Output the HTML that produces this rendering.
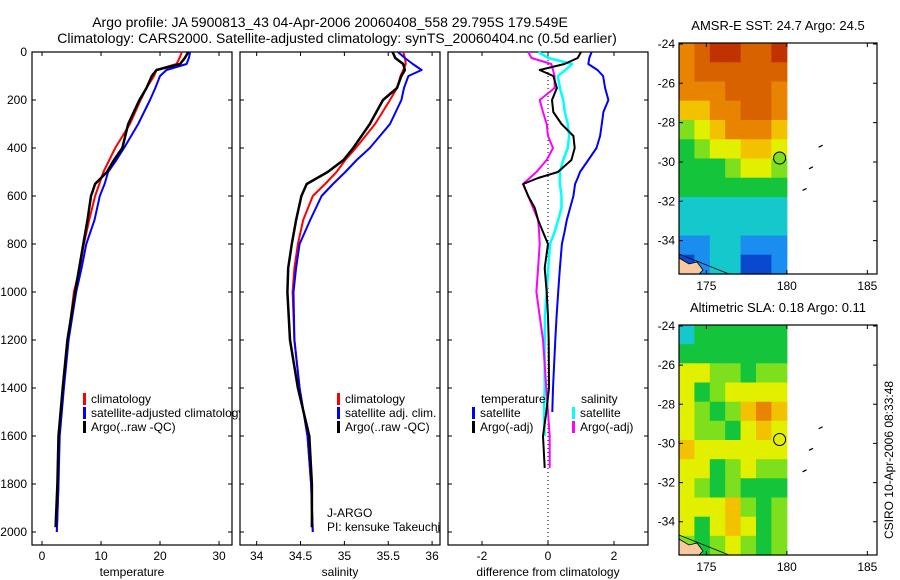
<!DOCTYPE html>
<html><head><meta charset="utf-8"><style>
html,body{margin:0;padding:0;background:#fff;}
svg{display:block;font-family:"Liberation Sans",sans-serif;}
text{fill:#000;}
</style></head><body>
<svg id="fig" width="900" height="580" viewBox="0 0 900 580" xmlns="http://www.w3.org/2000/svg">
<text x="330" y="27" font-size="14" text-anchor="middle">Argo profile: JA 5900813_43 04-Apr-2006 20060408_558 29.795S 179.549E</text>
<text x="337" y="43" font-size="14" text-anchor="middle">Climatology: CARS2000. Satellite-adjusted climatology: synTS_20060404.nc (0.5d earlier)</text>
<g id="g1"></g>
<g id="g2"></g>
<g id="g3"></g>
<g id="m1"></g>
<g id="m2"></g>
<text transform="translate(893,460) rotate(-90)" font-size="12" text-anchor="middle">CSIRO 10-Apr-2006 08:33:48</text>
</svg>
<script>
// ---- data ----
const depths = [0,25,50,75,100,150,200,300,400,450,500,550,600,700,800,900,1000,1200,1400,1600,1800,2000];
const tempClim = [23.7,23.3,22.8,19.4,19.0,17.7,16.7,14.9,12.4,11.4,10.4,9.7,9.0,8.0,7.1,6.4,5.4,4.4,3.6,2.9,2.8,2.5];
const tempSat  = [25.1,24.9,24.5,21.1,20.0,19.2,18.3,16.3,13.9,12.6,11.2,10.6,9.8,8.9,7.5,6.7,5.8,4.5,3.7,3.0,2.8,2.5];
const tempArgo = [24.8,24.2,23.4,19.4,18.6,17.7,16.5,14.6,13.6,12.2,11.0,9.0,8.3,7.7,7.0,6.3,5.6,4.3,3.5,2.8,2.6,2.3];
const salClim = [35.67,35.69,35.70,35.67,35.64,35.60,35.52,35.35,35.13,35.01,34.91,34.78,34.64,34.53,34.47,34.43,34.41,34.43,34.49,34.58,34.62,34.64];
const salSat  = [35.61,35.69,35.78,35.88,35.73,35.68,35.65,35.52,35.29,35.14,35.01,34.87,34.74,34.61,34.49,34.45,34.42,34.43,34.49,34.58,34.62,34.64];
const salArgo = [35.55,35.58,35.67,35.69,35.65,35.60,35.44,35.29,35.10,34.99,34.81,34.57,34.51,34.45,34.40,34.36,34.35,34.38,34.47,34.60,34.63,34.63];
const diffDepths = [0,25,50,75,100,150,200,250,300,350,400,450,500,525,550,600,650,700,750,800,900,1000,1100,1200,1400,1500,1600,1733];
const dTempSat = [1.32,1.25,1.22,1.5,1.67,1.73,1.83,1.68,1.63,1.58,1.47,1.22,0.97,0.9,0.82,0.77,0.67,0.57,0.5,0.42,0.36,0.31,0.26,0.22,0.15,0.13,null,null];
const dSalSat  = [-0.29,0.01,0.73,0.53,0.3,0.36,0.46,0.51,0.6,0.64,0.6,0.46,0.36,0.36,0.36,0.41,0.41,0.31,0.2,0.06,0.01,-0.04,-0.09,-0.1,-0.1,-0.12,-0.1,null];
const dTempArgo= [1.0,0.9,0.5,-0.25,0.16,0.27,0.12,0.16,0.41,0.77,0.81,0.71,0.3,-0.3,-0.75,-0.6,-0.4,-0.3,-0.15,0.0,-0.1,-0.04,0.0,0.02,0.03,-0.05,-0.15,-0.1];
const dSalArgo = [-0.6,-0.5,0.1,0.15,0.2,0.2,-0.25,-0.15,-0.04,0.0,0.15,-0.04,-0.35,-0.55,-0.76,-0.6,-0.45,-0.3,-0.27,-0.25,-0.3,-0.35,-0.25,-0.15,-0.05,0.0,0.05,0.05];
const depthTicks = [0,200,400,600,800,1000,1200,1400,1600,1800,2000];
const tempTicks = [0,10,20,30];
const salTicks = [34,34.5,35,35.5,36];
const diffTicks = [-2,0,2];
const latTicks = [-24,-26,-28,-30,-32,-34];
const lonTicks = [175,180,185];
const sstGrid = [
 [7,8,9,9,8,8,9],[7,8,8,8,8,8,8],[7,7,7,8,8,8,7],[6,6,7,7,8,8,7],
 [4,5,6,7,7,7,6],[3,4,5,5,6,6,5],[3,3,3,4,5,5,4],[3,3,3,3,3,3,3],
 [2,2,2,2,2,2,2],[2,2,2,2,2,2,2],[1,1,2,2,1,1,1],[0,1,2,2,0,0,1]];
const slaGrid = [
 [2,3,3,3,3,3,3],[3,3,3,3,3,3,3],[5,5,4,4,3,4,4],[5,3,4,5,5,5,5],
 [5,4,3,4,6,7,6],[5,4,4,3,5,6,5],[6,5,5,5,5,5,5],[5,5,3,4,5,4,4],
 [5,4,3,4,3,3,3],[5,5,5,6,4,3,4],[5,3,5,6,5,3,4],[4,3,4,5,4,3,4]];
const palette = ["#0a48d0","#1a8ef0","#14c8cc","#14c43a","#7ee01c","#e2f000","#f2c200","#e88400","#d86200","#c03200"];

const NS="http://www.w3.org/2000/svg";
function mk(p,tag,at){const e=document.createElementNS(NS,tag);for(const k in at)e.setAttribute(k,at[k]);p.appendChild(e);return e;}
const Y0=52,Y1=545; const yD=d=>Y0+d*0.24;

function panel(g,x0,x1,xmin,xmax,ticks,label,showY){
  const sx=v=>x0+(v-xmin)/(xmax-xmin)*(x1-x0);
  const r=mk(g,'rect',{x:x0,y:Y0,width:x1-x0,height:Y1-Y0,fill:'#fff',stroke:'#000','stroke-width':1.2});
  
  
  ticks.forEach(t=>{const x=sx(t);
    const l=mk(g,'path',{d:`M${x} ${Y0}v4M${x} ${Y1}v-4`,stroke:'#000'});
    
    
    const tx=mk(g,'text',{x:x,y:560,'font-size':12,'text-anchor':'middle'});tx.textContent=t;
    
    });
  depthTicks.forEach(d=>{const y=yD(d);
    const l=mk(g,'path',{d:`M${x0} ${y}h4M${x1} ${y}h-4`,stroke:'#000'});
    
    
    if(showY){const tx=mk(g,'text',{x:27,y:y+4,'font-size':12,'text-anchor':'end'});tx.textContent=d;
      
      }});
  const xl=mk(g,'text',{x:(x0+x1)/2,y:576,'font-size':12,'text-anchor':'middle'});xl.textContent=label;
  
  
  return sx;
}
function line(g,sx,ds,vals,col,w,name){
  const pts=[];vals.forEach((v,i)=>{if(v!==null)pts.push(sx(v).toFixed(1)+','+yD(ds[i]).toFixed(1));});
  const p=mk(g,'polyline',{points:pts.join(' '),fill:'none',stroke:col,'stroke-width':w,'stroke-linejoin':'round'});
  
  
}
function legend(g,x,y,col,txt){
  const b=mk(g,'rect',{x:x,y:y-10,width:3,height:12,fill:col});
  
  
  const t=mk(g,'text',{x:x+8,y:y,'font-size':12});t.textContent=txt;
  
  
}
const g1=document.getElementById('g1'),g2=document.getElementById('g2'),g3=document.getElementById('g3');
let sx=panel(g1,32,232,-1.7,32.2,tempTicks,'temperature',true);
line(g1,sx,depths,tempClim,'#f00',2,'temp-climatology-line');
line(g1,sx,depths,tempSat,'#00f',2,'temp-satellite-line');
line(g1,sx,depths.slice(0,21).concat([1980]),tempArgo,'#000',2.5,'temp-argo-line');
legend(g1,83,403,'#f00','climatology');
legend(g1,83,417,'#00f','satellite-adjusted climatology');
legend(g1,83,431,'#000','Argo(..raw -QC)');
sx=panel(g2,240,440,33.81,36.09,salTicks,'salinity',false);
line(g2,sx,depths,salClim,'#f00',2,'sal-climatology-line');
line(g2,sx,depths,salSat,'#00f',2,'sal-satellite-line');
line(g2,sx,depths.slice(0,21).concat([1980]),salArgo,'#000',2.5,'sal-argo-line');
legend(g2,337,403,'#f00','climatology');
legend(g2,337,417,'#00f','satellite adj. clim.');
legend(g2,337,431,'#000','Argo(..raw -QC)');
let t=mk(g2,'text',{x:327,y:517,'font-size':12});t.textContent='J-ARGO';


t=mk(g2,'text',{x:327,y:531,'font-size':12});t.textContent='PI: kensuke Takeuchi';


sx=panel(g3,448,648,-3.03,3.03,diffTicks,'difference from climatology',false);
const zl=mk(g3,'line',{x1:sx(0),y1:Y0,x2:sx(0),y2:Y1,stroke:'#000','stroke-dasharray':'1,3'});


line(g3,sx,diffDepths,dTempSat,'#00f',2,'diff-temp-satellite-line');
line(g3,sx,diffDepths,dSalSat,'#0ff',2.5,'diff-sal-satellite-line');
line(g3,sx,diffDepths,dSalArgo,'#f0f',2,'diff-sal-argo-line');
line(g3,sx,diffDepths,dTempArgo,'#000',2,'diff-temp-argo-line');
t=mk(g3,'text',{x:481,y:403,'font-size':12});t.textContent='temperature';


t=mk(g3,'text',{x:581,y:403,'font-size':12});t.textContent='salinity';


legend(g3,472,417,'#00f','satellite');
legend(g3,472,431,'#000','Argo(-adj)');
legend(g3,572,417,'#0ff','satellite');
legend(g3,572,431,'#f0f','Argo(-adj)');

function map(g,top,bot,grid,title,ci){
  const L=679,R=877,lonMin=173.3,lonMax=185.6,latTop=-23.95,latBot=-35.7;
  const sxm=v=>L+(v-lonMin)/(lonMax-lonMin)*(R-L);
  const sym=v=>top+(latTop-v)/(latTop-latBot)*(bot-top);
  const tt=mk(g,'text',{x:778,y:top-13,'font-size':13,'text-anchor':'middle'});tt.textContent=title;
  
  
  const fr=mk(g,'rect',{x:L,y:top,width:R-L,height:bot-top,fill:'#fff'});
  
  
  const nr=grid.length,nc=grid[0].length,cw=(180-lonMin)/nc,ch=(latTop-latBot)/nr;
  grid.forEach((row,i)=>row.forEach((v,j)=>{
    const x=sxm(lonMin+j*cw),y=sym(latTop-i*ch);
    const c=mk(g,'rect',{x:x.toFixed(1),y:y.toFixed(1),width:(sxm(lonMin+(j+1)*cw)-x+0.6).toFixed(1),height:(sym(latTop-(i+1)*ch)-y+0.6).toFixed(1),fill:palette[v]});
    
    }));
  const co=mk(g,'path',{d:`M${L} ${bot-16}l10 6l8 -2l6 8l-4 4h-20z`,fill:'#f8c8a0',stroke:'#000','stroke-width':0.8});
  
  
  const ol=mk(g,'path',{d:`M${L} ${bot-20}l20 8l20 8l10 4`,fill:'none',stroke:'#000','stroke-width':0.7});
  
  
  [[182.1,-29.2],[181.5,-30.3],[181.1,-31.4]].forEach(p=>{
    const is=mk(g,'path',{d:`M${sxm(p[0])-2} ${sym(p[1])+1}l4 -2`,stroke:'#000','stroke-width':1.2});
    
    });
  const fl=mk(g,'circle',{cx:sxm(179.55),cy:sym(-29.8),r:6,fill:palette[ci],stroke:'#000','stroke-width':1});
  
  
  const bx=mk(g,'rect',{x:L,y:top,width:R-L,height:bot-top,fill:'none',stroke:'#000','stroke-width':1.2});
  
  
  latTicks.forEach(v=>{const y=sym(v);
    const l=mk(g,'path',{d:`M${L} ${y}h4M${R} ${y}h-4`,stroke:'#000'});
    
    
    const tx=mk(g,'text',{x:675,y:y+4,'font-size':12,'text-anchor':'end'});tx.textContent=v;
    
    });
  lonTicks.forEach(v=>{const x=sxm(v);
    const l=mk(g,'path',{d:`M${x} ${top}v4M${x} ${bot}v-4`,stroke:'#000'});
    
    
    const tx=mk(g,'text',{x:x,y:bot+16,'font-size':12,'text-anchor':'middle'});tx.textContent=v;
    
    });
}
map(document.getElementById('m1'),43,274,sstGrid,'AMSR-E SST: 24.7 Argo: 24.5',4);
map(document.getElementById('m2'),325,555,slaGrid,'Altimetric SLA: 0.18 Argo: 0.11',5);
</script>
</body></html>
